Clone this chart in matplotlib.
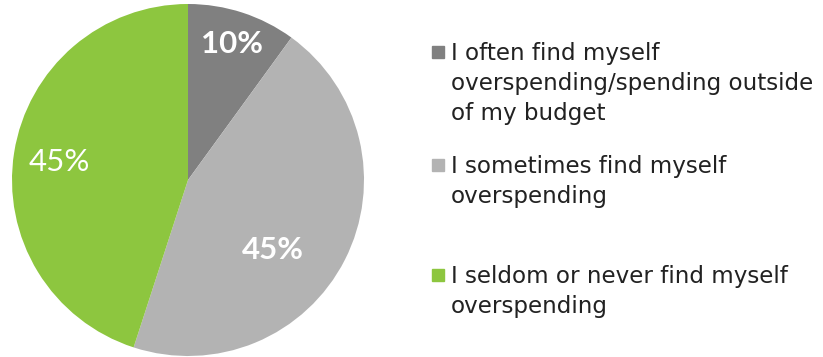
import matplotlib
matplotlib.use("Agg")
import matplotlib.pyplot as plt
from matplotlib.patches import Rectangle

# survey shares
labels = ["I often find myself\noverspending/spending outside\nof my budget",
          "I sometimes find myself\noverspending",
          "I seldom or never find myself\noverspending"]
shares = [10, 45, 45]
colors = ["#808080", "#b3b3b3", "#8dc63f"]
pct_weights = ["bold", "bold", "normal"]
# where each percentage sits, in pie radius units
pct_pos = [(0.25, 0.77), (0.48, -0.40), (-0.73, 0.10)]

W, H = 823, 357
fig = plt.figure(figsize=(W / 100, H / 100), dpi=100)

# pie centred at (188, 180) px, radius 176 px
cx, cy, r = 188, 180, 176
ax = fig.add_axes([(cx - r) / W, (H - cy - r) / H, 2 * r / W, 2 * r / H])
wedges, texts, autotexts = ax.pie(shares, colors=colors, startangle=90, counterclock=False,
                                  radius=1, autopct="%d%%",
                                  wedgeprops=dict(linewidth=0))
ax.set_xlim(-1, 1)
ax.set_ylim(-1, 1)
ax.set_aspect("equal")
for t, w, p in zip(autotexts, pct_weights, pct_pos):
    t.set_position(p)
    t.set_color("white")
    t.set_fontsize(22.5)
    t.set_fontweight(w)
    t.set_fontfamily("Lato")

# legend drawn by hand: square + wrapped text
tops = [42, 155, 265]
for lab, col, top in zip(labels, colors, tops):
    fig.patches.append(Rectangle((432 / W, 1 - (top + 16) / H), 12 / W, 12 / H,
                                 transform=fig.transFigure, color=col))
    fig.text(451 / W, 1 - top / H, lab, ha="left", va="top", fontsize=16.6,
             color="#222222", family="DejaVu Sans", linespacing=1.4)

fig.savefig("out.png", dpi=100)
